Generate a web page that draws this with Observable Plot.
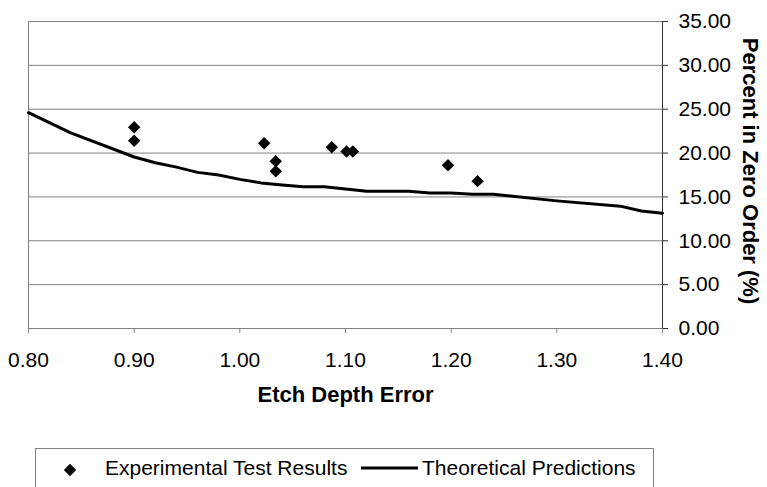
<!DOCTYPE html>
<html>
<head>
<meta charset="utf-8">
<script src="https://cdn.jsdelivr.net/npm/d3@7"></script>
<script src="https://cdn.jsdelivr.net/npm/@observablehq/plot@0.6"></script>
<style>
  html, body { margin: 0; padding: 0; background: #fff; }
  #wrap { position: relative; width: 767px; height: 487px; overflow: hidden; font-family: "Liberation Sans", Arial, sans-serif; }
  #wrap svg { display: block; }
  #legend { position: absolute; left: 35px; top: 448px; width: 619px; height: 60px; border: 1px solid #808080; box-sizing: border-box; background: #fff; font-size: 21px; color: #000; }
  #legend .item { position: absolute; top: 7px; line-height: 24px; white-space: nowrap; }
  #legend svg { position: absolute; }
</style>
</head>
<body>
<div id="wrap"></div>
<script>
// Experimental test results
const expX = [0.900, 0.900, 1.023, 1.034, 1.034, 1.087, 1.101, 1.107, 1.197, 1.225];
const expY = [22.95, 21.40, 21.13, 19.07, 17.93, 20.67, 20.18, 20.18, 18.62, 16.80];

// Theoretical predictions
const theoX = [0.80, 0.84, 0.90, 0.92, 0.94, 0.96, 0.98, 1.00, 1.02, 1.04, 1.06, 1.08, 1.10, 1.12, 1.16, 1.18, 1.20, 1.22, 1.24, 1.30, 1.36, 1.38, 1.40];
const theoY = [24.60, 22.30, 19.55, 18.90, 18.40, 17.80, 17.50, 17.00, 16.60, 16.35, 16.15, 16.15, 15.90, 15.65, 15.65, 15.45, 15.45, 15.30, 15.30, 14.55, 13.95, 13.40, 13.15];

// Axis ticks
const xTicks = [0.8, 0.9, 1.0, 1.1, 1.2, 1.3, 1.4];
const yTicks = [0, 5, 10, 15, 20, 25, 30, 35];

const xTitle = "Etch Depth Error";
const yTitle = "Percent in Zero Order (%)";
const seriesNames = ["Experimental Test Results", "Theoretical Predictions"];

const expData = expX.map((x, i) => ({x, y: expY[i]}));
const theoData = theoX.map((x, i) => ({x, y: theoY[i]}));

const chart = Plot.plot({
  width: 767,
  height: 487,
  marginLeft: 28,
  marginRight: 105,
  marginTop: 21,
  marginBottom: 159,
  style: { fontFamily: "'Liberation Sans', Arial, sans-serif", fontSize: "21px", background: "#fff", color: "#000", overflow: "visible" },
  x: { domain: [0.8, 1.4] },
  y: { domain: [0, 35] },
  marks: [
    Plot.gridY(yTicks, { stroke: "#808080", strokeOpacity: 1, strokeWidth: 1 }),
    Plot.ruleX([0.8], { stroke: "#808080", strokeWidth: 1 }),
    Plot.ruleY([0], { stroke: "#808080", strokeWidth: 1 }),
    Plot.axisX(xTicks, { anchor: "bottom", tickFormat: d => d.toFixed(2), tickSize: 5, tickPadding: 19, stroke: "#808080", fill: "#000", label: null }),
    Plot.axisY(yTicks, { anchor: "right", tickFormat: d => d.toFixed(2), tickSize: 5, tickPadding: 11, stroke: "#333", fill: "#000", label: null }),
    Plot.ruleX([1.4], { stroke: "#333", strokeWidth: 1 }),
    Plot.line(theoData, { x: "x", y: "y", stroke: "#000", strokeWidth: 3 }),
    Plot.dot(expData, { x: "x", y: "y", symbol: "diamond2", r: 5.6, fill: "#000", stroke: "none" }),
    Plot.text([xTitle], { frameAnchor: "bottom", dy: 73, fontWeight: "bold", fontSize: 22, fill: "#000" }),
    Plot.text([yTitle], { frameAnchor: "right", textAnchor: "middle", dx: 88, dy: -4, rotate: 90, fontWeight: "bold", fontSize: 22, fill: "#000" })
  ]
});

const wrap = document.getElementById("wrap");
wrap.appendChild(chart);

// Legend (below the plot frame)
const legend = document.createElement("div");
legend.id = "legend";
legend.innerHTML = `
  <svg width="14" height="14" style="left:27px;top:14px" viewBox="-7 -7 14 14"><path d="M0,-6.2L6.2,0L0,6.2L-6.2,0Z" fill="#000"/></svg>
  <span class="item" style="left:69px">${seriesNames[0]}</span>
  <svg width="58" height="6" style="left:325px;top:16px"><line x1="0" y1="3" x2="57" y2="3" stroke="#000" stroke-width="3"/></svg>
  <span class="item" style="left:386px">${seriesNames[1]}</span>
`;
wrap.appendChild(legend);
</script>
</body>
</html>
